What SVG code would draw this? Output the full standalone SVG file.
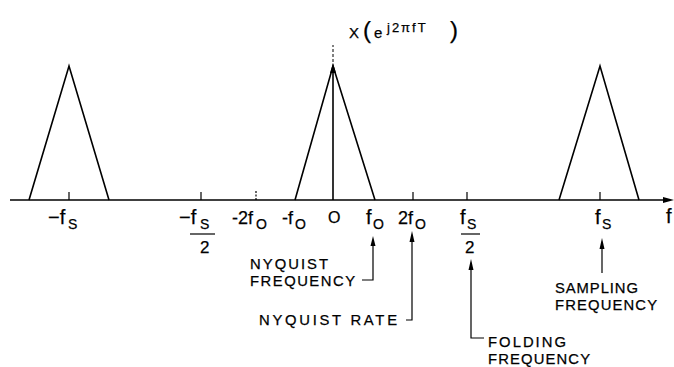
<svg xmlns="http://www.w3.org/2000/svg" width="674" height="367" viewBox="0 0 674 367">
<defs>
<style>
.ln{stroke:#000;stroke-width:1.6;fill:none}
.th{stroke:#000;stroke-width:1.2;fill:none}
.ah{fill:#000;stroke:none}
text{font-family:"Liberation Sans",Arial,sans-serif;fill:#000;stroke:#000;stroke-width:0.25}
.lb{font-size:14.8px}
.mf{font-size:20px}
.sb{font-size:14px}
</style>
</defs>
<rect width="674" height="367" fill="#fff"/>

<g id="axes">
<line class="ln" x1="10" y1="200" x2="666" y2="200"/>
<path class="ah" d="M674,200 L663,197 L663,203 Z"/>
<line class="ln" x1="333" y1="200" x2="333" y2="66"/>
<line stroke="#000" stroke-width="1" stroke-dasharray="3,2" x1="333" y1="62" x2="333" y2="45"/>
<path class="ah" d="M333,63 L330,73 L336,73 Z"/>
<text class="mf" x="666" y="223">f</text>
</g>

<g id="spectrum">
<polyline class="ln" points="29,200 69,66 109,200"/>
<polyline class="ln" points="295,200 333,66 375,200"/>
<polyline class="ln" points="559,200 600,66 639,200"/>
</g>

<g id="title">
<text x="349" y="38" style="font-size:15px">X</text>
<text x="363" y="38" style="font-size:24px">(</text>
<text x="374" y="38" style="font-size:15px">e</text>
<text x="387" y="32" style="font-size:13px;letter-spacing:2px">j2πfT</text>
<text x="450" y="38" style="font-size:24px">)</text>
</g>

<g id="ticks">
<line class="th" x1="69" y1="192" x2="69" y2="200"/>
<line class="th" x1="201" y1="192" x2="201" y2="200"/>
<line class="th" x1="256" y1="191" x2="256" y2="200" stroke-dasharray="2,1.5"/>
<line class="th" x1="413" y1="192" x2="413" y2="200"/>
<line class="th" x1="467" y1="192" x2="467" y2="200"/>
<line class="th" x1="600" y1="192" x2="600" y2="200"/>
</g>

<g id="tick-labels">
<g id="lbl-neg-fs"><text class="mf" x="48" y="224">−f</text><text class="sb" x="68" y="229">S</text></g>
<g id="lbl-neg-fs2"><text class="mf" x="179" y="224">−f</text><text class="sb" x="200" y="229">S</text><line class="th" x1="190" y1="234" x2="215" y2="234"/><text x="200" y="253" style="font-size:17px">2</text></g>
<g id="lbl-neg-2f0"><text x="232" y="224" style="font-size:18px">-2f</text><text class="sb" x="256" y="229">O</text></g>
<g id="lbl-neg-f0"><text x="282" y="224" style="font-size:18px">-f</text><text class="sb" x="295" y="229">O</text></g>
<g id="lbl-zero"><text x="328" y="223" style="font-size:16px">O</text></g>
<g id="lbl-f0"><text class="mf" x="366" y="224">f</text><text class="sb" x="373" y="229">O</text></g>
<g id="lbl-2f0"><text x="398" y="224" style="font-size:18px">2f</text><text class="sb" x="415" y="229">O</text></g>
<g id="lbl-fs2"><text class="mf" x="460" y="224">f</text><text class="sb" x="467" y="229">S</text><line class="th" x1="461" y1="234" x2="480" y2="234"/><text x="465" y="253" style="font-size:17px">2</text></g>
<g id="lbl-fs"><text class="mf" x="595" y="224">f</text><text class="sb" x="602" y="229">S</text></g>
</g>

<g id="connectors">
<polyline class="th" points="362,280 373,280 373,240"/>
<path class="ah" d="M373,236 L370.5,246 L375.5,246 Z"/>
<polyline class="th" points="406,320 412,320 412,236"/>
<path class="ah" d="M412,231 L409.5,242 L414.5,242 Z"/>
<polyline class="th" points="484,338 471,338 471,264"/>
<path class="ah" d="M471,259 L468.5,270 L473.5,270 Z"/>
<line class="th" x1="602" y1="273" x2="602" y2="243"/>
<path class="ah" d="M602,238 L599.5,249 L604.5,249 Z"/>
</g>

<g id="note-nyquist-freq">
<text class="lb" x="250" y="269" textLength="78" lengthAdjust="spacing">NYQUIST</text>
<text class="lb" x="250" y="286" textLength="105" lengthAdjust="spacing">FREQUENCY</text>
</g>
<g id="note-nyquist-rate">
<text class="lb" x="259" y="325" textLength="138" lengthAdjust="spacing">NYQUIST RATE</text>
</g>
<g id="note-folding">
<text class="lb" x="488" y="347" textLength="78" lengthAdjust="spacing">FOLDING</text>
<text class="lb" x="488" y="364" textLength="102" lengthAdjust="spacing">FREQUENCY</text>
</g>
<g id="note-sampling">
<text class="lb" x="555" y="293" textLength="83" lengthAdjust="spacing">SAMPLING</text>
<text class="lb" x="555" y="310" textLength="102" lengthAdjust="spacing">FREQUENCY</text>
</g>
</svg>
